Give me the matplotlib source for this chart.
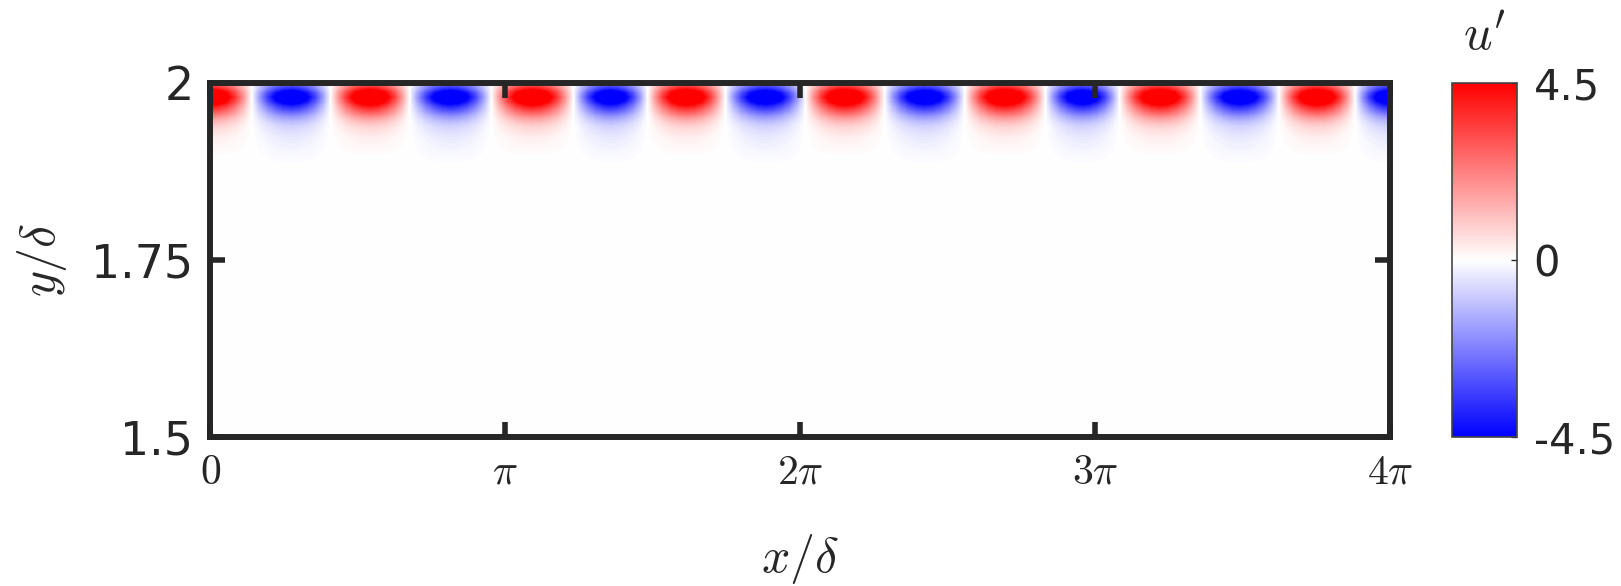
import numpy as np
import matplotlib.pyplot as plt
from matplotlib import cm, colors

plt.rcParams['mathtext.fontset'] = 'cm'
plt.rcParams['font.family'] = 'DejaVu Sans'

# white gaps between neighbouring streaks at the top wall (x/delta in units of pi);
# the first and last streaks are cut by the domain edges
x_zero = [-0.14, 0.14, 0.41, 0.675, 0.955, 1.23, 1.485, 1.745, 2.02,
          2.285, 2.56, 2.83, 3.085, 3.355, 3.625, 3.88, 4.12]
streak_sign = [1, -1, 1, -1, 1, -1, 1, -1, 1, -1, 1, -1, 1, -1, 1, -1]

# cross-section of one streak between its two gaps (fraction of peak)
t_cut = [0.0, 0.1, 0.2, 0.3, 0.4, 0.5, 0.6, 0.7, 0.8, 0.9]
s_cut = [0.0, 0.31, 0.59, 0.81, 0.95, 1.0, 0.95, 0.81, 0.59, 0.31]

# u' through a streak centre vs y/delta (positive and negative streaks)
y_prof = [1.5, 1.88, 1.895, 1.91, 1.924, 1.938, 1.945, 1.952, 1.959, 1.966,
          1.973, 1.98, 1.987, 1.994, 2.0]
amp_pos = [0.0, 0.0, 0.0, 0.15, 0.32, 0.75, 1.2, 1.9, 2.9, 3.9,
           5.2, 6.0, 5.2, 3.6, 2.6]
amp_neg = [0.0, 0.0, 0.1, 0.25, 0.42, 0.8, 1.25, 1.9, 2.9, 3.9,
           5.2, 6.0, 5.2, 3.6, 2.6]

xtick_pos = [0, 1, 2, 3, 4]
xtick_lab = [r'$0$', r'$\pi$', r'$2\pi$', r'$3\pi$', r'$4\pi$']
ytick_pos = [1.5, 1.75, 2.0]
ytick_lab = ['1.5', '1.75', '2']
cb_ticks = [-4.5, 0, 4.5]
cb_lab = ['-4.5', '0', '4.5']
u_lim = 4.5

# place the streak cross-section between each pair of gaps
xs, shape = [], []
for k, sg in enumerate(streak_sign):
    a, b = x_zero[k], x_zero[k + 1]
    for t, s in zip(t_cut, s_cut):
        xs.append(a + t * (b - a))
        shape.append(sg * s)
xs.append(x_zero[-1])
shape.append(0.0)
x_nodes = np.array(xs) * np.pi
shape = np.array(shape)

ap = np.array(amp_pos)[:, None]
an = np.array(amp_neg)[:, None]
U = np.where(shape[None, :] > 0, shape[None, :] * ap, shape[None, :] * an)
X, Y = np.meshgrid(x_nodes, np.array(y_prof))

dark = '#262626'
fig = plt.figure(figsize=(16.21, 5.86), dpi=100)
ax = fig.add_axes([0.1296, 0.2543, 0.7279, 0.6041])
cax = fig.add_axes([0.8957, 0.2543, 0.0401, 0.6041])

levels = np.linspace(-u_lim, u_lim, 181)
ax.contourf(X, Y, U, levels=levels, cmap='bwr', extend='both')

ax.set_xlim(0, 4 * np.pi)
ax.set_ylim(1.5, 2.0)
ax.set_xticks(np.array(xtick_pos) * np.pi)
ax.set_xticklabels(xtick_lab, fontsize=30)
ax.set_yticks(ytick_pos)
ax.set_yticklabels(ytick_lab, fontsize=33)
ax.tick_params(axis='both', direction='in', length=11, width=4,
               color=dark, labelcolor=dark, top=True, right=True)
ax.tick_params(axis='x', pad=10)
ax.tick_params(axis='y', pad=12)
for s in ax.spines.values():
    s.set_linewidth(4.3)
    s.set_color(dark)
ax.set_xlabel(r'$x/\delta$', fontsize=36, color=dark, labelpad=28)
ax.set_ylabel(r'$y/\delta$', fontsize=36, color=dark, labelpad=16)

sm = cm.ScalarMappable(norm=colors.Normalize(-u_lim, u_lim), cmap='bwr')
cb = fig.colorbar(sm, cax=cax, ticks=cb_ticks)
cb.ax.set_yticklabels(cb_lab, fontsize=30, color=dark)
cb.ax.tick_params(direction='in', length=4, width=1, color=dark, pad=12)
cb.outline.set_linewidth(1.2)
cb.outline.set_edgecolor('#444444')
cax.set_title(r"$u'$", fontsize=36, color=dark, pad=24)

fig.savefig('out.png', dpi=100)
